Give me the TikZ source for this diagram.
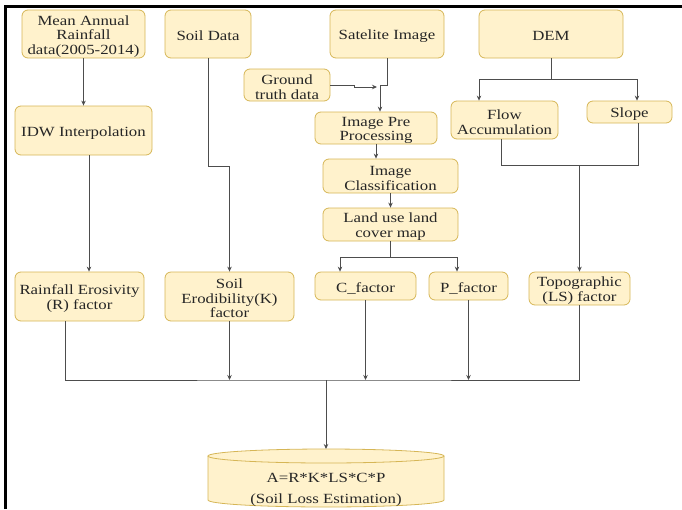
\documentclass[tikz,border=0pt]{standalone}
\usepackage{fontspec}
\setmainfont{Liberation Serif}[FakeStretch=1.2]
\usetikzlibrary{arrows.meta,calc}
\definecolor{boxfill}{HTML}{FFF2CC}
\definecolor{boxline}{HTML}{D6B656}
\definecolor{connc}{HTML}{4D4D4D}
\definecolor{txt}{HTML}{262626}
\newcommand\mytopstrut{\rule{0pt}{14pt}}
\begin{document}
\begin{tikzpicture}[x=1pt,y=-1pt,
  box/.style={draw=boxline,fill=boxfill,rounded corners=6pt,line width=0.8pt,inner sep=0pt,align=center,font=\fontsize{14}{14.5}\selectfont,text=txt},
  conn/.style={draw=connc,line width=1pt},
  arr/.style={conn,-{Stealth[length=5pt,width=4.5pt]}}]
\useasboundingbox (0,0) rectangle (682,509);
\draw[line width=3pt,black] (5,509) -- (5,6) -- (682,6);

% top row
\node[box,minimum width=123pt,minimum height=48pt] (rain) at (83.5,34) {\mytopstrut Mean Annual\\Rainfall\\data(2005-2014)};
\node[box,minimum width=86pt,minimum height=48pt] (soil) at (208,34) {\mytopstrut Soil Data};
\node[box,minimum width=114pt,minimum height=48pt] (sat) at (387,34) {\mytopstrut Satelite Image};
\node[box,minimum width=144pt,minimum height=48pt] (dem) at (551,34) {\mytopstrut DEM};

\node[box,minimum width=86pt,minimum height=32pt] (ground) at (287,85) {\mytopstrut Ground\\truth data};
\node[box,minimum width=122pt,minimum height=32pt] (pre) at (376,128) {\mytopstrut Image Pre\\Processing};
\node[box,minimum width=107pt,minimum height=38pt] (flow) at (504.5,120) {\mytopstrut Flow\\Accumulation};
\node[box,minimum width=85pt,minimum height=22pt] (slope) at (629.5,112) {\mytopstrut Slope};
\node[box,minimum width=137pt,minimum height=49pt] (idw) at (83.5,130.5) {\mytopstrut IDW Interpolation};
\node[box,minimum width=135pt,minimum height=34pt] (cls) at (390.5,176) {\mytopstrut Image\\Classification};
\node[box,minimum width=135pt,minimum height=33pt] (lulc) at (390.5,224.5) {\mytopstrut Land use land\\cover map};

\node[box,minimum width=129pt,minimum height=49pt] (rfe) at (79.5,296.5) {\mytopstrut Rainfall Erosivity\\(R) factor};
\node[box,minimum width=129pt,minimum height=49pt] (ske) at (229.5,296.5) {\mytopstrut Soil\\Erodibility(K)\\factor};
\node[box,minimum width=101pt,minimum height=28pt] (cf) at (365.5,286) {\mytopstrut C\_factor};
\node[box,minimum width=79pt,minimum height=28pt] (pf) at (468.5,286) {\mytopstrut P\_factor};
\node[box,minimum width=101pt,minimum height=33pt] (topo) at (579.5,288.5) {\mytopstrut Topographic\\(LS) factor};

% cylinder
\filldraw[fill=boxfill,draw=boxline,line width=0.8pt] (208,456) -- (208,500) .. controls (208,503.9) and (260.8,507) .. (326,507) .. controls (391.2,507) and (444,503.9) .. (444,500) -- (444,456);
\filldraw[fill=boxfill,draw=boxline,line width=0.8pt] (326,456) ellipse [x radius=118pt, y radius=7pt];
\node[align=center,inner sep=0pt,font=\fontsize{14}{21}\selectfont,text=txt] (cyl) at (326,487) {\rule{0pt}{15pt}A=R*K*LS*C*P\\(Soil Loss Estimation)};
\coordinate (cyltop) at (326,449);

% connectors
\draw[arr] (rain.south) -- (idw.north);
\draw[arr] ([xshift=5.5pt]idw.south) -- ([xshift=9.5pt]rfe.north);
\draw[arr] (soil.south) -- ++(0,108) -| (ske.north);
\draw[arr] (sat.south) -- ++(0,27) -| ([xshift=4pt]pre.north);
\coordinate (gtend) at (377,87);
\draw[arr] (ground.east) -- ++(24,0) -- ++(0,2) -- (gtend);
\draw[arr] (pre.south) -- (pre.south |- cls.north);
\draw[arr] (cls.south) -- (lulc.north);
\draw[arr] (lulc.south) -- ++(0,16) -| ([xshift=-25.5pt]cf.north);
\draw[arr] (lulc.south) -- ++(0,16) -| ([xshift=-11.5pt]pf.north);
\draw[arr] (dem.south) -- ++(0,21) -| ([xshift=-25.5pt]flow.north);
\draw[arr] (dem.south) -- ++(0,21) -| ([xshift=7.5pt]slope.north);
\coordinate (jt) at (579.5,165);
\draw[conn] ([xshift=-3.5pt]flow.south) |- (jt);
\draw[conn] ([xshift=8.5pt]slope.south) |- (jt);
\draw[arr] (jt) -- (topo.north);

\coordinate (bus) at (326,380);
\draw[conn] ([xshift=-14.5pt]rfe.south) |- (bus) -| (topo.south);
\draw[arr] (ske.south) -- (ske.south |- bus);
\draw[arr] (cf.south) -- (cf.south |- bus);
\draw[arr] (pf.south) -- (pf.south |- bus);
\draw[arr] (bus) -- (cyltop);
\end{tikzpicture}
\end{document}
